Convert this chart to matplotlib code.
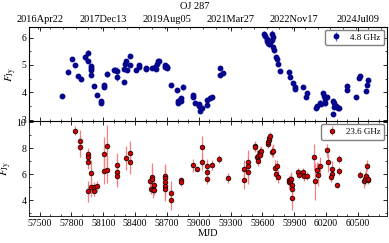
import numpy as np
import matplotlib
matplotlib.use('Agg')
import matplotlib.pyplot as plt

# 4.8 GHz light curve
mjd_48 = [57709, 57771, 57803, 57834, 57863, 57891, 57925, 57954, 57954, 57982,
          57982, 57982, 57982, 58013, 58041, 58076, 58076, 58111, 58111, 58139,
          58198, 58208, 58227, 58227, 58293, 58293, 58308, 58318, 58321, 58349,
          58349, 58412, 58440, 58440, 58500, 58500, 58560, 58588, 58594, 58610,
          58619, 58625, 58679, 58682, 58694, 58704, 58704, 58735, 58798, 58801,
          58801, 58820, 58829, 58833, 58852, 58946, 58949, 58968, 58999, 59002,
          59015, 59034, 59077, 59080, 59103, 59128, 59197, 59197, 59232, 59617,
          59624, 59640, 59643, 59649, 59655, 59665, 59671, 59687, 59693, 59696,
          59702, 59709, 59727, 59737, 59749, 59762, 59850, 59863, 59885, 59907,
          59910, 59979, 60007, 60023, 60107, 60114, 60145, 60148, 60173, 60180,
          60189, 60192, 60211, 60267, 60277, 60277, 60289, 60302, 60315, 60324,
          60267, 60396, 60399, 60484, 60506, 60519, 60575, 60585, 60597]
flux_48 = [3.85, 4.76, 5.20, 4.98, 4.59, 4.48, 5.28, 5.44, 5.14, 4.96,
           4.89, 4.82, 4.63, 4.24, 3.89, 3.68, 3.61, 4.25, 4.19, 4.67,
           4.81, 4.80, 4.79, 4.56, 4.36, 4.86, 5.04, 5.14, 4.80, 5.31,
           5.00, 4.83, 4.99, 4.94, 4.87, 4.84, 4.88, 4.92, 4.86, 5.04,
           5.13, 5.15, 5.00, 4.93, 4.96, 4.87, 4.93, 4.28, 4.08, 3.67,
           3.60, 3.72, 3.80, 3.69, 4.19, 3.89, 3.84, 3.62, 3.58, 3.50,
           3.32, 3.41, 3.55, 3.73, 3.80, 3.84, 4.87, 4.65, 4.71, 6.15,
           6.06, 5.96, 5.88, 5.84, 5.81, 5.75, 5.82, 5.90, 6.12, 6.02,
           5.66, 5.53, 5.30, 5.21, 5.03, 4.77, 4.75, 4.57, 4.33, 4.18,
           4.11, 4.19, 3.84, 3.99, 3.41, 3.48, 3.62, 3.56, 3.96, 3.86,
           3.75, 3.61, 3.82, 3.68, 3.60, 3.46, 3.51, 3.46, 3.41, 3.43,
           3.21, 4.23, 4.08, 3.84, 4.53, 4.59, 4.06, 4.26, 4.45]
err_48 = [0.06, 0.05, 0.05, 0.05, 0.05, 0.05, 0.12, 0.10, 0.06, 0.08,
          0.08, 0.08, 0.08, 0.05, 0.05, 0.06, 0.06, 0.06, 0.06, 0.10,
          0.06, 0.06, 0.12, 0.15, 0.05, 0.05, 0.05, 0.05, 0.05, 0.05,
          0.05, 0.05, 0.06, 0.06, 0.06, 0.06, 0.05, 0.06, 0.06, 0.06,
          0.06, 0.06, 0.07, 0.07, 0.07, 0.07, 0.07, 0.05, 0.06, 0.06,
          0.06, 0.06, 0.06, 0.06, 0.12, 0.05, 0.05, 0.05, 0.05, 0.05,
          0.05, 0.05, 0.06, 0.06, 0.05, 0.05, 0.06, 0.06, 0.06, 0.08,
          0.15, 0.15, 0.12, 0.12, 0.12, 0.10, 0.10, 0.10, 0.15, 0.15,
          0.08, 0.08, 0.08, 0.08, 0.06, 0.06, 0.08, 0.10, 0.08, 0.06,
          0.06, 0.05, 0.06, 0.05, 0.06, 0.06, 0.08, 0.08, 0.08, 0.10,
          0.15, 0.10, 0.06, 0.08, 0.08, 0.06, 0.06, 0.06, 0.06, 0.06,
          0.05, 0.08, 0.08, 0.06, 0.06, 0.06, 0.06, 0.06, 0.08]

# 23.6 GHz light curve
mjd_236 = [57837, 57881, 57881, 57954, 57954, 57954, 57954, 57982, 57985, 58013,
           58013, 58042, 58107, 58107, 58139, 58139, 58227, 58227, 58227, 58318,
           58349, 58349, 58538, 58547, 58557, 58557, 58566, 58575, 58582, 58679,
           58679, 58679, 58679, 58679, 58739, 58739, 58833, 58833, 58946, 58984,
           59027, 59027, 59074, 59074, 59074, 59128, 59194, 59279, 59429, 59429,
           59461, 59461, 59461, 59530, 59530, 59552, 59561, 59555, 59577, 59580,
           59583, 59574, 59649, 59655, 59662, 59665, 59668, 59687, 59702, 59718,
           59724, 59737, 59743, 59847, 59853, 59859, 59869, 59875, 59881, 59881,
           59938, 59947, 59985, 59994, 60023, 60082, 60098, 60114, 60120, 60145,
           60211, 60217, 60252, 60252, 60250, 60302, 60321, 60321, 60519, 60560,
           60566, 60575, 60585, 60591, 60597]
flux_236 = [9.35, 8.57, 8.12, 7.54, 7.36, 6.93, 4.70, 6.11, 5.03, 5.00,
            4.70, 5.07, 7.59, 6.28, 8.17, 6.31, 6.71, 6.16, 5.90, 7.24,
            7.64, 6.91, 5.45, 4.90, 5.83, 5.65, 4.77, 5.20, 4.82, 5.90,
            5.73, 5.40, 5.13, 4.85, 4.60, 4.05, 5.53, 5.40, 6.71, 6.43,
            8.07, 6.93, 6.61, 6.21, 5.65, 6.71, 7.16, 5.70, 6.41, 5.60,
            6.96, 6.61, 6.16, 8.17, 8.09, 7.34, 7.41, 7.04, 7.71, 7.59,
            7.79, 7.49, 8.34, 8.47, 8.62, 8.79, 8.92, 7.74, 7.79, 6.46,
            6.03, 6.66, 5.83, 5.53, 5.38, 5.45, 5.65, 5.20, 4.90, 4.15,
            6.16, 5.98, 6.16, 5.90, 5.85, 7.34, 5.45, 6.33, 5.98, 6.66,
            7.84, 6.91, 6.41, 6.03, 5.78, 5.15, 7.16, 6.23, 5.98, 5.45,
            5.65, 5.90, 6.66, 5.58, 5.63]
err_236 = [0.35, 0.80, 0.80, 0.50, 0.50, 0.50, 0.80, 1.00, 0.80, 0.40,
           0.40, 0.40, 1.30, 1.00, 1.60, 1.00, 0.90, 0.90, 0.90, 0.90,
           0.90, 0.90, 0.40, 0.40, 1.00, 0.80, 0.60, 0.40, 0.40, 0.90,
           0.90, 0.90, 0.90, 0.90, 0.90, 0.80, 0.30, 0.30, 0.50, 0.20,
           0.90, 0.60, 0.60, 0.40, 0.40, 0.40, 0.30, 0.40, 0.70, 0.70,
           0.90, 0.90, 0.90, 0.40, 0.40, 0.50, 0.40, 0.40, 0.40, 0.40,
           0.40, 0.40, 0.30, 0.30, 0.30, 0.30, 0.30, 0.40, 0.50, 0.60,
           0.50, 0.40, 0.50, 0.30, 0.50, 0.50, 0.50, 0.60, 0.80, 0.90,
           0.30, 0.30, 0.30, 0.40, 0.30, 1.00, 1.40, 0.60, 0.90, 0.70,
           0.50, 0.70, 0.60, 0.50, 0.40, 0.20, 0.30, 0.30, 0.30, 0.50,
           0.50, 0.50, 0.40, 0.30, 0.30]

date_ticks = [57500, 58100, 58700, 59300, 59900, 60500]
date_labels = ['2016Apr22', '2017Dec13', '2019Aug05', '2021Mar27', '2022Nov17', '2024Jul09']
mjd_ticks = [57500, 57800, 58100, 58400, 58700, 59000, 59300, 59600, 59900, 60200, 60500]

plt.rcParams['font.family'] = 'Liberation Serif'
plt.rcParams['mathtext.fontset'] = 'stix'
plt.rcParams['font.size'] = 7
plt.rcParams['xtick.direction'] = 'in'
plt.rcParams['ytick.direction'] = 'in'

fig, (ax1, ax2) = plt.subplots(2, 1, figsize=(3.89, 2.43), dpi=100, sharex=True)
fig.subplots_adjust(left=0.075, right=0.995, top=0.889, bottom=0.111, hspace=0)

ax1.errorbar(mjd_48, flux_48, yerr=err_48, fmt='o', ms=3.2, color='#06068c',
             ecolor='#5a6cf0', elinewidth=0.9, capsize=0, label='4.8 GHz')
ax2.errorbar(mjd_236, flux_236, yerr=err_236, fmt='o', ms=3.4, mfc='#d40000',
             mec='black', mew=0.5, ecolor='#f58080', elinewidth=0.9, capsize=0,
             label='23.6 GHz')

for ax in (ax1, ax2):
    ax.set_ylabel(r'$F_{\rm Jy}$', labelpad=2, fontsize=8)
    ax.tick_params(which='both', top=True, right=True, labelsize=7, pad=2)
    ax.tick_params(which='major', length=3, width=0.6)
    ax.tick_params(which='minor', length=1.5, width=0.5)
    for s in ax.spines.values():
        s.set_linewidth(0.6)
    ax.legend(loc='upper right', fontsize=6.5, fancybox=True, edgecolor='gray',
              framealpha=1, handletextpad=0.8, borderpad=0.4, handlelength=1.6,
              borderaxespad=0.3)

ax1.set_ylim(2.93, 6.39)
ax1.set_yticks([3, 4, 5, 6])
ax1.yaxis.set_minor_locator(matplotlib.ticker.MultipleLocator(0.5))
ax2.set_ylim(2.8, 10.05)
ax2.set_yticks([4, 6, 8, 10])
ax2.yaxis.set_minor_locator(matplotlib.ticker.MultipleLocator(1))

ax2.set_xlim(57401, 60775)
ax2.set_xticks(mjd_ticks)
ax2.xaxis.set_minor_locator(matplotlib.ticker.MultipleLocator(100))
ax2.set_xlabel('MJD', labelpad=1, fontsize=7.5)

top = ax1.twiny()
top.set_xlim(ax1.get_xlim())
top.set_xticks(date_ticks)
top.set_xticklabels(date_labels)
top.xaxis.set_minor_locator(matplotlib.ticker.MultipleLocator(120))
top.tick_params(which='both', direction='in', labelsize=7.5, pad=2)
top.tick_params(which='major', length=3, width=0.6)
top.tick_params(which='minor', length=1.5, width=0.5)
ax1.tick_params(axis='x', which='both', top=False)

fig.text(0.5, 0.975, 'OJ 287', ha='center', va='center', fontsize=7.5)

fig.savefig('out.png', dpi=100)
